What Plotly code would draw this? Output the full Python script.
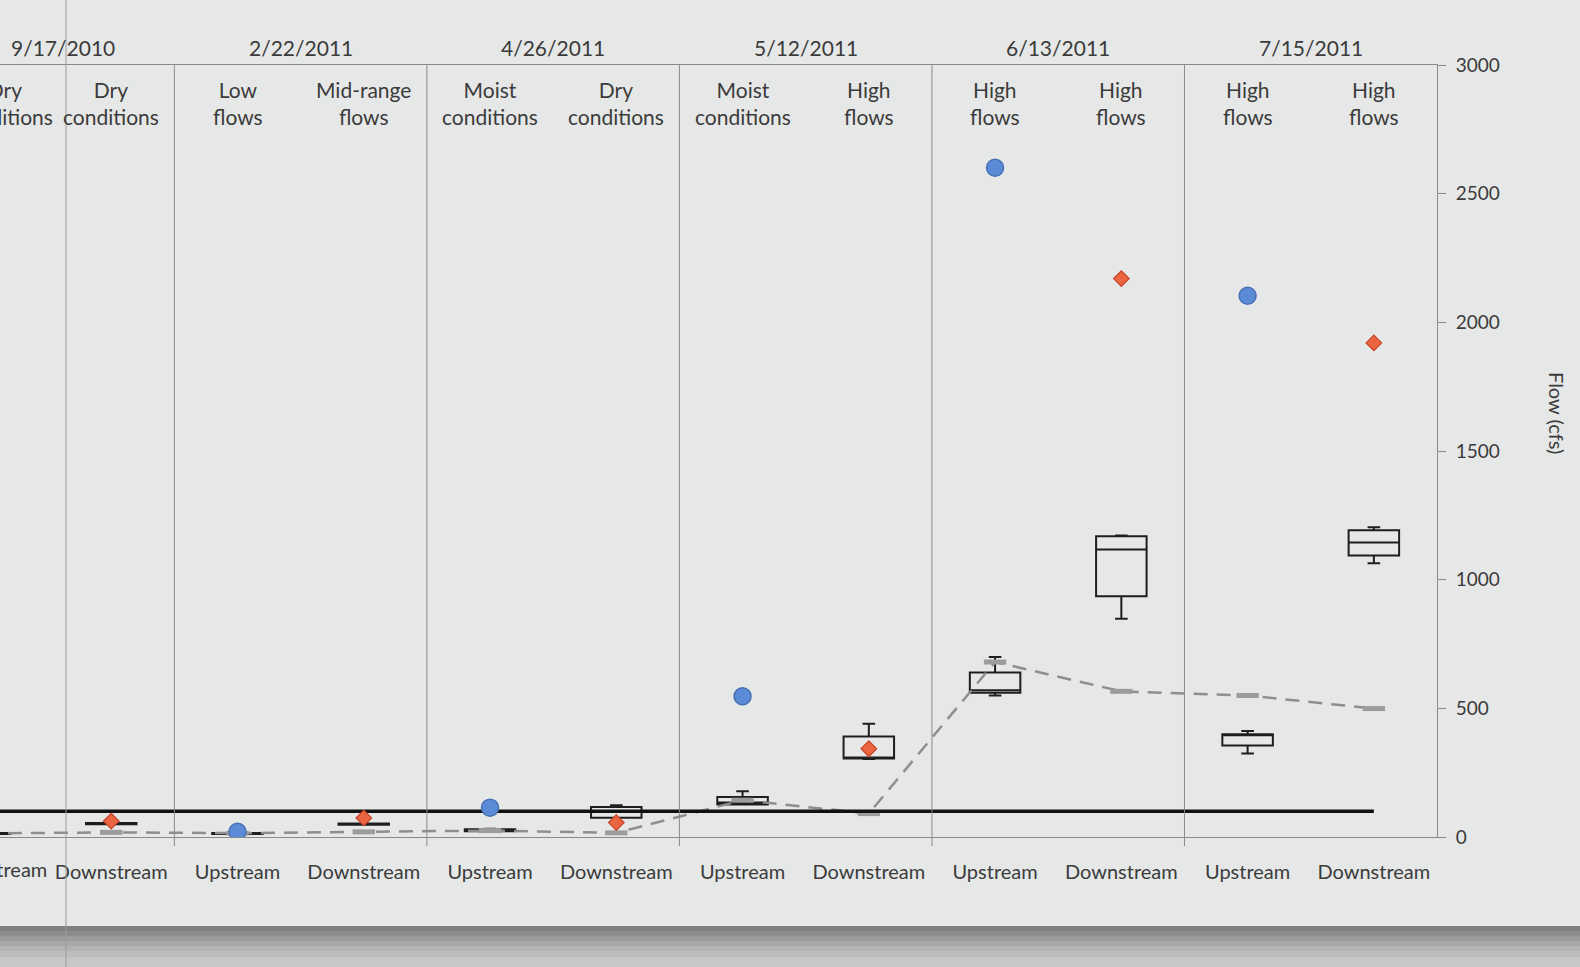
import plotly.graph_objects as go

# ---------------- data ----------------
dates = ["9/17/2010", "2/22/2011", "4/26/2011", "5/12/2011", "6/13/2011", "7/15/2011"]
positions = ["Upstream", "Downstream"] * 6
conditions = ["Dry<br>conditions", "Dry<br>conditions",
              "Low<br>flows", "Mid-range<br>flows",
              "Moist<br>conditions", "Dry<br>conditions",
              "Moist<br>conditions", "High<br>flows",
              "High<br>flows", "High<br>flows",
              "High<br>flows", "High<br>flows"]

cat_index = list(range(12))

box_low = [12, 50, 12, 48, 20, 75, 126, 303, 550, 848, 324, 1064]
box_q1 = [12, 50, 12, 48, 22, 75, 126, 305, 561, 936, 356, 1094]
box_median = [14, 52, 14, 50, 26, 97, 134, 307, 570, 1117, 397, 1144]
box_q3 = [16, 54, 16, 52, 30, 117, 155, 391, 639, 1169, 399, 1192]
box_high = [16, 54, 16, 52, 32, 123, 178, 440, 699, 1172, 412, 1204]

upstream_idx = [0, 2, 4, 6, 8, 10]
upstream_flow = [45, 20, 114, 547, 2601, 2103]
downstream_idx = [1, 3, 5, 7, 9, 11]
downstream_flow = [62, 74, 56, 343, 2170, 1920]

dashed_flow = [14, 18, 15, 20, 25, 16, 143, 91, 680, 566, 550, 499]
threshold_flow = [100] * 12

y_ticks = [0, 500, 1000, 1500, 2000, 2500, 3000]

# ---------------- layout helpers ----------------
W, H = 1580, 967
X0, X1 = 0.119, 11.5
PLOT_TOP, PLOT_BOT = 65, 837
M_L, M_R = 0, 143
TEXT = "#3b3b3b"
FONT = "Lato"
BG = "#e6e8e8"
SEAM_SHIFT = 20  # the scanned strip left of the seam is offset to the right


def xd(v):
    return (v - X0) / (X1 - X0)


def yd(py):
    return (PLOT_BOT - py) / (PLOT_BOT - PLOT_TOP)


fig = go.Figure()

fig.add_trace(go.Scatter(
    x=cat_index, y=dashed_flow, mode="lines+markers",
    line=dict(color="#8e8e8e", width=2.5, dash="14px,9px"),
    marker=dict(symbol="line-ew", size=16, line=dict(color="#9c9c9c", width=5)),
    name="Mean flow", showlegend=False))

fig.add_trace(go.Scatter(
    x=cat_index, y=threshold_flow, mode="lines",
    line=dict(color="#111111", width=3.5),
    name="Threshold", showlegend=False))

fig.add_trace(go.Box(
    x=cat_index, q1=box_q1, median=box_median, q3=box_q3,
    lowerfence=box_low, upperfence=box_high,
    width=0.4, whiskerwidth=0.25, boxpoints=False,
    fillcolor="rgba(0,0,0,0)", line=dict(color="#1e1e1e", width=2),
    name="Flow", showlegend=False))

fig.add_trace(go.Scatter(
    x=upstream_idx, y=upstream_flow, mode="markers",
    marker=dict(symbol="circle", size=17, color="#5b8bd6",
                line=dict(color="#4770b4", width=1.5)),
    name="Upstream", showlegend=False))

fig.add_trace(go.Scatter(
    x=downstream_idx, y=downstream_flow, mode="markers",
    marker=dict(symbol="diamond", size=12, color="#ea6540",
                line=dict(color="#c8432a", width=1.2)),
    name="Downstream", showlegend=False))

shapes = []
# background bottom shadow band (page edge)
band = [(926, 931, "#7f7f7f"), (931, 936, "#8d8d8d"), (936, 941, "#9b9b9b"),
        (941, 946, "#a8a8a8"), (946, 951, "#b3b3b3"), (951, 957, "#bdbdbd"),
        (957, 968, "#c7c7c7")]
for a, b, c in band:
    shapes.append(dict(type="rect", xref="paper", yref="paper",
                       x0=-0.01, x1=W / (W - M_R) + 0.01, y0=yd(b), y1=yd(a),
                       fillcolor=c, line=dict(width=0), layer="below"))
# group separators
for b in [i + 0.5 for i in range(1, 11, 2)]:
    shapes.append(dict(type="line", xref="x", yref="y domain",
                       x0=b, x1=b, y0=yd(846), y1=1,
                       line=dict(color="#8a8a8a", width=1)))
# scan seam
shapes.append(dict(type="line", xref="paper", yref="paper",
                   x0=66 / (W - M_R), x1=66 / (W - M_R), y0=yd(967), y1=yd(0),
                   line=dict(color="#9a9a9a", width=1)))

annotations = []
for g, d in enumerate(dates):
    annotations.append(dict(x=xd(2 * g + 0.5), y=yd(48), xref="x domain", yref="y domain",
                            text=d, showarrow=False, font=dict(size=21, color=TEXT, family=FONT),
                            xanchor="center", yanchor="middle",
                            xshift=15 if g == 0 else 0))
for i, c in enumerate(conditions):
    annotations.append(dict(x=xd(i), y=yd(103), xref="x domain", yref="y domain",
                            text=c, showarrow=False, font=dict(size=21, color=TEXT, family=FONT),
                            xanchor="center", yanchor="middle",
                            xshift=SEAM_SHIFT if i == 0 else 0))
# first category bottom label lies left of the visible axis range
annotations.append(dict(x=xd(0), y=yd(869), xref="x domain", yref="y domain",
                        text=positions[0], showarrow=False,
                        font=dict(size=20, color=TEXT, family=FONT),
                        xanchor="center", yanchor="middle", xshift=SEAM_SHIFT))
annotations.append(dict(x=(1557 - M_L) / (W - M_R - M_L), y=yd(413), xref="paper", yref="paper",
                        text="Flow (cfs)", textangle=90, showarrow=False,
                        font=dict(size=20, color=TEXT, family=FONT),
                        xanchor="center", yanchor="middle"))

fig.update_layout(
    width=W, height=H,
    margin=dict(l=M_L, r=M_R, t=PLOT_TOP, b=H - PLOT_BOT),
    paper_bgcolor=BG, plot_bgcolor=BG,
    boxmode="overlay",
    shapes=shapes, annotations=annotations,
    xaxis=dict(range=[X0, X1], tickmode="array", tickvals=cat_index, ticktext=positions,
               showgrid=False, zeroline=False, showline=True, mirror=True,
               linecolor="#8a8a8a", linewidth=1, ticks="", ticklabelstandoff=17,
               tickfont=dict(size=20, color=TEXT, family=FONT)),
    yaxis=dict(range=[0, 3000], side="right", tickmode="array", tickvals=y_ticks,
               showgrid=False, zeroline=False, showline=True, linecolor="#8a8a8a",
               linewidth=1, ticks="outside", ticklen=8, tickcolor="#8a8a8a",
               ticklabelstandoff=6,
               tickfont=dict(size=19, color=TEXT, family=FONT)),
)

fig.write_html(
    "out.html",
    config={"displayModeBar": False},
    post_script="document.body.style.margin='0';document.body.style.overflow='hidden';"
                "document.body.style.background='" + BG + "';",
)
